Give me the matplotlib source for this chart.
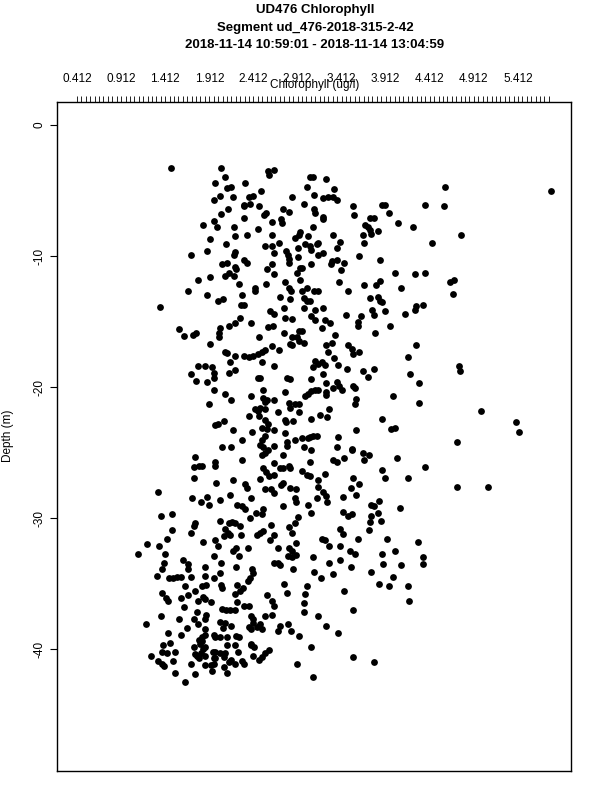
import numpy as np
import matplotlib
matplotlib.use("Agg")
import matplotlib.pyplot as plt

# (chlorophyll ug/l, depth m), grouped by region of the plot
shallow_low = [
    (1.48, -3.3), (2.05, -3.3), (2.09, -4.0), (1.98, -4.4), (2.32, -4.4), (2.58, -3.5), (2.59, -3.8),
    (2.64, -3.4), (2.11, -4.8), (2.16, -4.7), (2.50, -5.0), (2.03, -5.4), (1.96, -5.7), (2.18, -5.5),
    (2.36, -5.5), (2.41, -5.4), (2.37, -6.0), (2.30, -6.2), (2.31, -6.1), (2.48, -6.2), (2.12, -6.4),
    (2.04, -6.8), (2.53, -6.9), (2.55, -6.7), (2.31, -7.1), (1.97, -7.3), (1.84, -7.6), (2.62, -7.4),
    (2.00, -7.8), (2.19, -7.8), (2.46, -7.9), (1.92, -8.7), (2.20, -8.5), (2.34, -8.4), (2.62, -8.4),
    (2.54, -9.2), (2.62, -9.2), (2.10, -9.1), (1.89, -9.6), (1.70, -9.9), (2.19, -9.9), (2.20, -9.7),
    (2.64, -9.8), (2.30, -10.3), (2.34, -10.5), (2.06, -10.6), (2.11, -10.5), (2.20, -10.8), (2.21, -11.0),
    (2.62, -10.6), (2.57, -11.0), (2.09, -11.5), (2.13, -11.3), (2.19, -11.5), (1.92, -11.6), (1.78, -11.8),
    (2.64, -11.4), (2.25, -12.1), (2.43, -12.4), (2.43, -12.7), (2.55, -12.1), (1.67, -12.7), (1.89, -13.0),
    (2.01, -13.4), (2.07, -13.3), (2.28, -13.0), (2.27, -13.7), (2.30, -13.7), (1.35, -13.9), (2.60, -14.2),
    (2.64, -14.4), (2.26, -14.7), (2.20, -15.1), (2.13, -15.3), (2.38, -15.1), (1.57, -15.6), (1.63, -16.1),
    (1.73, -16.0), (1.76, -15.9), (2.03, -15.5), (2.02, -15.9), (2.02, -16.2), (2.47, -16.2), (2.58, -15.4),
    (2.63, -15.3),
]

shallow_high = [
    (3.05, -4.0), (3.09, -4.0), (3.23, -4.1), (3.02, -4.7), (3.33, -4.9), (2.85, -5.5), (3.10, -5.3),
    (3.20, -5.6), (3.26, -5.5), (3.31, -5.5), (3.36, -5.7), (2.98, -6.0), (3.54, -6.2), (3.87, -6.1),
    (3.90, -6.1), (3.95, -6.7), (2.75, -6.4), (2.81, -6.6), (3.10, -6.4), (3.11, -6.7), (3.20, -7.0),
    (3.20, -7.2), (3.55, -6.9), (3.73, -7.1), (3.78, -7.1), (2.73, -7.2), (2.74, -7.5), (4.05, -7.5),
    (4.22, -7.8), (3.68, -7.6), (3.71, -7.8), (3.73, -8.0), (3.75, -8.3), (3.83, -8.1), (3.09, -7.8),
    (2.94, -8.2), (2.93, -8.4), (3.32, -8.4), (2.88, -8.6), (3.03, -8.5), (3.66, -8.4), (2.70, -9.0),
    (3.39, -8.9), (3.00, -9.1), (3.05, -9.2), (3.07, -9.5), (3.13, -9.1), (3.15, -9.0), (3.67, -9.0),
    (2.92, -9.4), (3.36, -9.4), (2.78, -9.6), (2.80, -9.9), (3.15, -9.9), (3.20, -9.8), (3.61, -10.0),
    (2.81, -10.2), (2.81, -10.5), (2.92, -10.1), (3.85, -10.3), (3.06, -10.6), (3.30, -10.4), (3.29, -10.6),
    (3.36, -10.3), (3.44, -10.5), (2.94, -10.9), (2.91, -11.3), (2.96, -10.9), (2.94, -11.8), (3.41, -11.1),
    (4.02, -11.3), (4.24, -11.4), (2.77, -12.0), (3.38, -12.0), (3.80, -12.2), (3.85, -11.9), (3.67, -12.2),
    (2.82, -12.4), (2.84, -12.7), (4.08, -12.4), (3.02, -12.4), (3.48, -12.7), (2.96, -12.7), (3.10, -12.7),
    (3.15, -12.7), (2.71, -13.1), (2.83, -13.3), (2.99, -13.2), (3.02, -13.4), (3.05, -13.4), (3.73, -13.2),
    (3.82, -13.1), (3.85, -13.4), (3.87, -13.5), (2.76, -14.0), (2.98, -14.0), (3.11, -14.1), (3.20, -14.0),
    (4.26, -13.8), (4.24, -14.1), (3.76, -14.1), (3.78, -14.5), (3.90, -14.2), (4.13, -14.4), (2.77, -14.7),
    (2.85, -14.8), (3.06, -14.6), (3.11, -14.9), (3.22, -14.9), (3.28, -15.1), (3.46, -14.5), (3.63, -14.6),
    (3.60, -15.0), (3.60, -15.3), (3.19, -15.5), (3.96, -15.3), (2.93, -15.7), (2.96, -15.7), (2.76, -15.9),
    (3.34, -16.0), (3.79, -15.9), (2.85, -16.2), (2.91, -16.2),
]

middle_low = [
    (1.92, -16.7), (2.09, -17.3), (2.11, -17.4), (2.20, -17.6), (2.31, -17.6), (2.36, -17.7), (2.41, -17.6),
    (2.46, -17.5), (2.51, -17.3), (2.54, -17.2), (2.62, -16.9), (2.15, -18.1), (2.51, -18.1), (2.64, -18.4),
    (1.78, -18.4), (1.86, -18.4), (1.94, -18.5), (2.20, -18.7), (2.13, -18.9), (1.70, -19.0), (1.76, -19.5),
    (1.96, -18.9), (1.97, -19.3), (1.89, -19.6), (2.46, -19.3), (2.49, -19.3), (1.97, -20.2), (2.09, -20.5),
    (2.16, -21.0), (2.52, -20.2), (2.39, -20.7), (2.52, -20.8), (2.54, -21.1), (2.57, -21.0), (2.64, -21.0),
    (1.91, -21.3), (2.43, -21.7), (2.46, -21.8), (2.49, -21.6), (2.54, -21.7), (2.36, -22.2), (2.47, -22.2),
    (2.54, -22.5), (2.58, -22.8), (1.98, -22.9), (2.01, -22.8), (2.08, -22.6), (2.18, -23.3), (2.40, -23.4),
    (2.51, -23.1), (2.57, -23.2), (2.64, -23.3), (2.54, -23.7), (2.28, -24.0), (2.51, -24.0), (2.49, -24.4),
    (2.52, -24.6), (2.54, -25.0), (2.51, -25.2), (2.58, -24.8), (2.64, -24.5), (2.06, -24.6), (2.16, -24.6),
    (1.75, -25.3), (1.98, -25.7), (1.98, -26.0), (1.74, -26.1), (1.79, -26.0), (1.83, -26.0), (2.28, -25.6),
    (2.65, -25.8), (2.52, -26.2), (2.49, -27.0), (2.56, -26.5), (2.59, -26.8), (2.64, -26.7), (1.74, -26.9),
    (1.99, -27.3), (2.18, -27.1), (2.32, -27.4), (2.34, -27.7), (2.54, -27.8), (2.61, -27.8), (1.33, -28.0),
    (2.65, -28.1), (2.15, -28.2), (1.72, -28.5), (1.82, -28.8), (1.89, -28.4), (1.91, -29.0), (2.03, -28.6),
    (2.38, -28.5), (2.23, -29.0), (2.28, -29.1), (2.32, -29.3), (1.36, -29.8), (1.49, -29.7), (2.44, -29.6),
    (2.51, -29.7), (2.52, -29.3), (2.37, -30.0),
]

middle_high = [
    (2.83, -16.7), (2.85, -16.8), (2.93, -16.5), (2.99, -16.6), (2.70, -17.2), (3.24, -16.8), (3.26, -17.3),
    (3.30, -16.6), (3.49, -16.8), (3.53, -17.1), (3.54, -17.5), (3.61, -17.3), (4.26, -16.8), (4.17, -17.7),
    (3.33, -17.8), (3.11, -18.0), (3.15, -18.2), (3.09, -18.5), (3.19, -18.1), (3.22, -18.3), (3.37, -18.3),
    (3.47, -18.6), (3.65, -18.8), (3.78, -18.6), (3.71, -19.2), (4.19, -19.0), (2.79, -19.3), (2.83, -19.4),
    (3.07, -19.4), (3.20, -19.0), (3.24, -19.7), (3.36, -19.6), (3.32, -20.1), (3.38, -19.9), (3.42, -20.2),
    (3.54, -19.9), (3.56, -20.1), (4.29, -19.7), (2.77, -20.4), (3.00, -20.7), (3.03, -20.5), (3.07, -20.3),
    (3.11, -20.2), (3.15, -20.2), (3.24, -20.4), (3.24, -20.6), (3.58, -20.9), (3.56, -21.3), (4.00, -20.7),
    (4.29, -21.2), (2.81, -21.2), (2.83, -21.6), (2.88, -21.3), (2.93, -21.3), (2.93, -21.9), (2.69, -21.9),
    (3.17, -22.1), (3.27, -21.7), (3.06, -22.4), (3.25, -22.3), (3.87, -22.4), (2.77, -22.5), (2.78, -22.7),
    (2.86, -22.6), (3.97, -23.2), (4.02, -23.1), (3.57, -23.3), (2.77, -23.5), (2.88, -24.0), (2.96, -23.9),
    (3.03, -23.9), (3.05, -23.8), (3.09, -23.7), (3.13, -23.7), (3.37, -23.8), (2.79, -24.2), (2.79, -24.5),
    (2.99, -24.6), (3.07, -24.8), (3.36, -24.6), (3.53, -24.7), (3.53, -24.8), (3.66, -25.0), (3.72, -25.2),
    (3.67, -25.6), (2.75, -25.2), (3.44, -25.4), (4.04, -25.4), (3.05, -25.7), (3.32, -25.6), (3.36, -25.7),
    (2.71, -26.2), (2.81, -26.0), (2.83, -26.2), (2.75, -26.2), (2.96, -26.4), (3.02, -26.7), (3.05, -26.8),
    (3.22, -26.6), (3.87, -26.3), (3.90, -26.9), (4.17, -26.9), (3.54, -26.9), (3.15, -27.1), (3.15, -27.6),
    (2.75, -27.3), (2.73, -27.5), (2.83, -27.7), (2.90, -27.8), (3.61, -27.4), (3.52, -27.7), (3.20, -28.0),
    (3.23, -28.3), (3.25, -28.8), (2.88, -28.5), (2.89, -28.8), (3.13, -28.5), (3.43, -28.4), (3.57, -28.2),
    (3.03, -29.0), (3.75, -29.0), (3.78, -29.1), (3.84, -28.7), (4.07, -29.2), (2.75, -29.1), (3.07, -29.6),
    (3.43, -29.5), (3.49, -29.8), (3.53, -29.7), (3.75, -29.8), (3.83, -29.6), (2.92, -29.9),
]

deep_low = [
    (1.75, -30.4), (1.74, -30.6), (2.03, -30.2), (2.13, -30.4), (2.17, -30.3), (2.20, -30.4), (2.26, -30.6),
    (2.09, -30.8), (2.12, -31.1), (2.15, -31.3), (2.08, -31.4), (1.49, -30.9), (1.70, -31.1), (2.27, -31.3),
    (2.45, -31.3), (2.49, -31.1), (2.52, -31.0), (2.61, -30.5), (2.64, -31.3), (1.43, -31.6), (1.20, -32.0),
    (1.34, -32.1), (1.84, -31.8), (1.98, -31.7), (2.01, -32.1), (2.60, -31.7), (2.18, -32.5), (2.22, -32.3),
    (2.35, -32.3), (1.10, -32.7), (1.41, -32.7), (1.96, -32.9), (2.25, -32.9), (1.61, -33.2), (1.67, -33.5),
    (1.40, -33.4), (2.05, -33.4), (1.86, -33.7), (2.22, -33.7), (2.64, -33.4), (1.38, -33.9), (1.67, -33.9),
    (2.40, -33.9), (2.41, -34.2), (2.03, -34.2), (1.32, -34.4), (1.45, -34.6), (1.50, -34.6), (1.55, -34.5),
    (1.59, -34.5), (1.71, -34.5), (1.86, -34.4), (1.96, -34.6), (2.37, -34.6), (2.35, -34.8), (1.64, -35.2),
    (1.83, -35.2), (1.88, -35.1), (2.04, -35.1), (2.06, -35.3), (2.23, -35.1), (2.29, -35.3), (2.20, -35.8),
    (2.26, -35.6), (1.38, -35.7), (1.42, -36.1), (1.44, -36.3), (1.59, -36.1), (1.67, -35.9), (1.75, -35.6),
    (1.78, -36.3), (1.84, -36.0), (1.86, -36.2), (1.93, -36.4), (2.23, -36.4), (2.57, -35.9), (2.62, -36.3),
    (2.65, -36.7), (1.63, -36.8), (2.06, -36.9), (2.10, -37.0), (2.15, -37.0), (2.20, -37.0), (2.30, -36.7),
    (2.36, -36.7), (1.77, -37.2), (1.88, -37.4), (1.36, -37.5), (1.57, -37.7), (1.74, -37.7), (1.86, -37.7),
    (2.03, -37.9), (2.09, -38.0), (2.39, -37.5), (2.41, -37.7), (2.54, -37.5), (2.62, -37.4), (1.19, -38.1),
    (1.66, -38.4), (1.78, -38.1), (2.07, -38.4), (2.16, -38.2), (2.36, -38.3), (2.39, -38.5), (2.41, -38.0),
    (2.45, -38.3), (2.49, -38.1), (2.51, -38.5), (1.86, -38.5), (1.86, -38.9), (1.83, -39.1), (1.44, -38.8),
    (1.59, -38.9), (1.96, -38.9), (1.98, -39.1), (2.03, -39.1), (2.11, -39.1), (2.22, -39.0), (2.25, -39.1),
    (1.79, -39.3), (1.81, -39.6), (1.83, -39.4), (1.86, -39.8), (1.84, -40.0), (1.82, -40.3), (1.77, -40.5),
    (1.86, -40.5), (1.47, -39.5), (1.39, -39.7), (1.74, -39.8), (2.11, -39.7), (2.20, -39.7), (2.39, -39.7),
    (2.42, -39.8), (2.38, -39.6), (2.59, -40.1), (2.54, -40.3), (1.37, -40.2), (1.43, -40.3), (1.52, -40.2),
    (1.95, -40.2), (1.98, -40.2), (2.03, -40.3), (1.98, -40.7), (2.09, -40.3), (2.24, -40.2), (2.41, -40.5),
    (1.25, -40.5), (1.33, -40.9), (1.37, -41.1), (1.50, -40.9), (1.75, -40.4), (1.80, -40.7), (1.96, -40.7),
    (2.08, -40.6), (2.13, -41.0), (2.16, -40.8), (2.20, -41.1), (2.28, -40.9), (2.30, -41.1), (2.48, -40.8),
    (2.51, -40.6), (1.86, -41.2), (1.93, -41.2), (1.97, -41.1), (1.71, -41.1), (2.08, -41.4), (2.11, -41.8),
    (1.40, -41.3), (1.52, -41.8), (1.75, -41.9), (1.94, -41.7), (1.64, -42.5),
]

deep_high = [
    (2.88, -30.4), (2.81, -30.7), (2.85, -31.1), (3.73, -30.3), (3.86, -30.2), (3.39, -30.8), (3.43, -31.2),
    (3.72, -30.9), (2.90, -31.9), (2.69, -32.3), (3.19, -31.6), (3.22, -31.7), (3.27, -32.1), (3.39, -32.1),
    (3.60, -31.6), (3.93, -31.6), (4.28, -31.8), (2.81, -32.3), (2.85, -32.5), (2.80, -32.9), (2.85, -33.0),
    (2.90, -32.8), (3.51, -32.5), (3.56, -32.7), (3.87, -32.7), (4.02, -32.5), (3.09, -33.0), (2.69, -33.4),
    (2.71, -33.6), (2.86, -33.9), (3.27, -33.4), (3.39, -33.2), (3.52, -33.7), (3.88, -33.5), (4.08, -33.6),
    (3.10, -34.1), (3.18, -34.6), (3.31, -34.3), (3.74, -34.1), (3.99, -34.5), (2.76, -35.0), (3.02, -35.2),
    (3.84, -35.0), (3.95, -35.2), (4.17, -35.2), (2.79, -35.7), (3.00, -35.8), (3.44, -35.6), (4.18, -36.3),
    (2.99, -36.5), (3.54, -37.0), (2.98, -37.2), (3.15, -37.5), (2.71, -38.2), (2.69, -38.6), (2.80, -38.1),
    (2.84, -38.6), (2.93, -39.0), (3.24, -38.2), (3.37, -38.8), (3.07, -39.8), (3.54, -40.6), (3.78, -41.0),
    (2.91, -41.1), (3.09, -42.1),
]

high_chl_outliers = [
    (4.58, -4.7), (5.79, -5.0), (4.36, -6.1), (4.57, -6.2), (4.77, -8.4), (4.44, -9.0), (4.36, -11.3),
    (4.64, -12.0), (4.69, -11.8), (4.68, -12.9), (4.34, -13.7), (4.74, -18.4), (4.76, -18.8), (4.99, -21.8),
    (5.39, -22.7), (5.42, -23.4), (4.72, -24.2), (4.36, -26.1), (4.72, -27.6), (5.07, -27.6), (4.33, -33.0),
    (4.33, -33.5),
]

title_lines = ["UD476 Chlorophyll", "Segment ud_476-2018-315-2-42",
               "2018-11-14 10:59:01 - 2018-11-14 13:04:59"]
x_label_start = 0.412
x_data_max = 5.81

groups = [shallow_low, shallow_high, middle_low, middle_high, deep_low, deep_high, high_chl_outliers]
pts = np.array([p for g in groups for p in g])
chl = pts[:, 0]
depth = pts[:, 1]

plt.rcParams['font.family'] = ['Liberation Sans', 'DejaVu Sans']

fig = plt.figure(figsize=(6, 8), dpi=100)
ax = fig.add_axes([57 / 600, 1 - 771 / 800, 514 / 600, 669 / 800])
ax.scatter(chl, depth, s=24, c='black', linewidths=0)

ax.set_xlim(0.185, 6.013)
ax.set_ylim(-49.3, 1.76)

# top axis: labels every 0.5, small ticks every 0.05
ax.xaxis.tick_top()
major = np.arange(x_label_start, 5.5, 0.5)
ax.set_xticks(major)
ax.set_xticklabels(["%.3f" % v for v in major])
ax.set_xticks(np.arange(x_label_start, x_data_max + 0.001, 0.05), minor=True)
ax.tick_params(axis='x', which='both', direction='out', length=4.5, width=0.6,
               labelsize=8.5, pad=8)

ax.set_yticks([0, -10, -20, -30, -40])
ax.set_yticklabels(["0", "-10", "-20", "-30", "-40"], rotation=90, va='center')
ax.tick_params(axis='y', direction='out', length=5, width=0.8, labelsize=8.5, pad=3)

for s in ax.spines.values():
    s.set_linewidth(1.0)

fig.text(315 / 600, 1 - 85 / 800, "Chlorophyll (ug/l)", ha='center', va='center', fontsize=8.5)
fig.text(8 / 600, 1 - 436 / 800, "Depth (m)", ha='center', va='center', rotation=90, fontsize=8.5)

for i, line in enumerate(title_lines):
    fig.text(315 / 600, 1 - (10 + 17.5 * i) / 800, line, ha='center', va='center',
             fontsize=9.5, fontweight='bold')

fig.savefig("out.png", dpi=100)
